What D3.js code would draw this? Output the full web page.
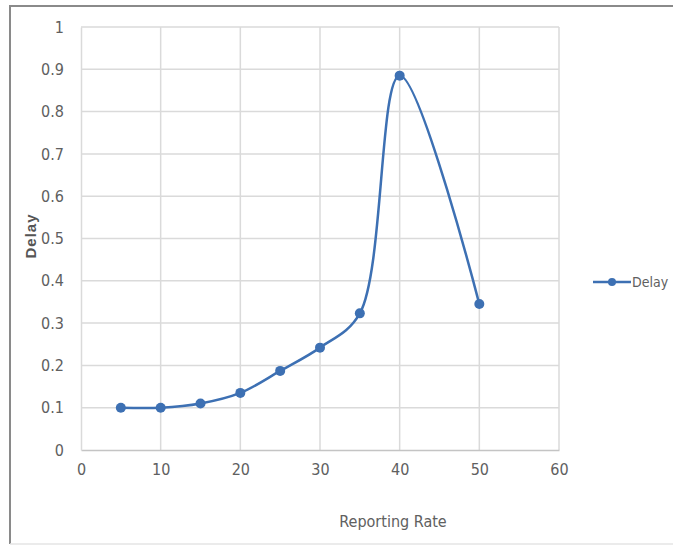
<!DOCTYPE html>
<html>
<head>
<meta charset="utf-8">
<script src="https://cdn.jsdelivr.net/npm/d3@7"></script>
<style>
  body { margin: 0; background: #fff; }
  text { font-family: "Liberation Sans Narrow", "DejaVu Sans Condensed", "Arial Narrow", "Liberation Sans", sans-serif; }
</style>
</head>
<body>
<div id="chart"></div>
<script>
// values
var rates  = [5, 10, 15, 20, 25, 30, 35, 40, 50];
var delays = [0.1, 0.1, 0.11, 0.135, 0.187, 0.242, 0.323, 0.885, 0.345];
var xTicks = [0, 10, 20, 30, 40, 50, 60];
var yTicks = [0, 0.1, 0.2, 0.3, 0.4, 0.5, 0.6, 0.7, 0.8, 0.9, 1];
var seriesName = "Delay";

var width = 673, height = 553;
var blue = "#3d70b3";
var fontList = "'Liberation Sans Narrow', 'DejaVu Sans Condensed', 'Arial Narrow', 'Liberation Sans', sans-serif";

var svg = d3.select("#chart").append("svg")
    .attr("width", width)
    .attr("height", height);

// chart frame
svg.append("path")
    .attr("d", "M10,544 L10,6 L673,6")
    .attr("fill", "none")
    .attr("stroke", "#8a8a8a")
    .attr("stroke-width", 2);
svg.append("line")
    .attr("x1", 10).attr("x2", 673)
    .attr("y1", 544).attr("y2", 544)
    .attr("stroke", "#e4e4e4")
    .attr("stroke-width", 1.5);

var x = d3.scaleLinear().domain([0, 60]).range([81, 559]);
var y = d3.scaleLinear().domain([0, 1]).range([450, 27]);

// gridlines
svg.append("g").selectAll("line").data(yTicks.slice(1)).enter().append("line")
    .attr("x1", x(0)).attr("x2", x(60))
    .attr("y1", function(d) { return y(d); })
    .attr("y2", function(d) { return y(d); })
    .attr("stroke", "#dadada")
    .attr("stroke-width", 1.5);
svg.append("g").selectAll("line").data(xTicks.slice(1)).enter().append("line")
    .attr("x1", function(d) { return x(d); })
    .attr("x2", function(d) { return x(d); })
    .attr("y1", y(0)).attr("y2", y(1))
    .attr("stroke", "#dadada")
    .attr("stroke-width", 1.5);

// axes
var xAxis = svg.append("g")
    .attr("transform", "translate(0," + y(0) + ")")
    .call(d3.axisBottom(x).tickValues(xTicks).tickSize(0).tickPadding(14));
var yAxis = svg.append("g")
    .attr("transform", "translate(" + x(0) + ",0)")
    .call(d3.axisLeft(y).tickValues(yTicks).tickSize(0).tickPadding(17)
      .tickFormat(function(d) { return d3.format("")(d); }));

xAxis.select(".domain").attr("stroke", "#c4c4c4").attr("stroke-width", 1.5);
yAxis.select(".domain").attr("stroke", "#dadada").attr("stroke-width", 1.5);
svg.selectAll(".tick text")
    .attr("fill", "#606060")
    .style("font-size", "16px")
    .style("font-family", fontList);

// axis titles
svg.append("text")
    .attr("x", 393).attr("y", 527)
    .attr("text-anchor", "middle")
    .attr("fill", "#606060")
    .style("font-size", "16px")
    .text("Reporting Rate");
svg.append("text")
    .attr("transform", "translate(36,236) rotate(-90)")
    .attr("text-anchor", "middle")
    .attr("fill", "#555")
    .style("font-size", "15px")
    .style("font-weight", "bold")
    .style("font-family", "'Liberation Sans', sans-serif")
    .style("letter-spacing", "1px")
    .text(seriesName);

// series
var pts = rates.map(function(r, i) { return [r, delays[i]]; });
var line = d3.line()
    .x(function(d) { return x(d[0]); })
    .y(function(d) { return y(d[1]); })
    .curve(d3.curveCatmullRom.alpha(0.5));

svg.append("path")
    .datum(pts)
    .attr("d", line)
    .attr("fill", "none")
    .attr("stroke", blue)
    .attr("stroke-width", 2.5);

svg.append("g").selectAll("circle").data(pts).enter().append("circle")
    .attr("cx", function(d) { return x(d[0]); })
    .attr("cy", function(d) { return y(d[1]); })
    .attr("r", 5)
    .attr("fill", blue);

// legend
var lg = svg.append("g").attr("transform", "translate(593,282)");
lg.append("line")
    .attr("x1", 0).attr("x2", 38)
    .attr("stroke", blue).attr("stroke-width", 2.5);
lg.append("circle").attr("cx", 19).attr("r", 4).attr("fill", blue);
lg.append("text")
    .attr("x", 39).attr("y", 5)
    .attr("fill", "#606060")
    .style("font-size", "14px")
    .text(seriesName);
</script>
</body>
</html>
